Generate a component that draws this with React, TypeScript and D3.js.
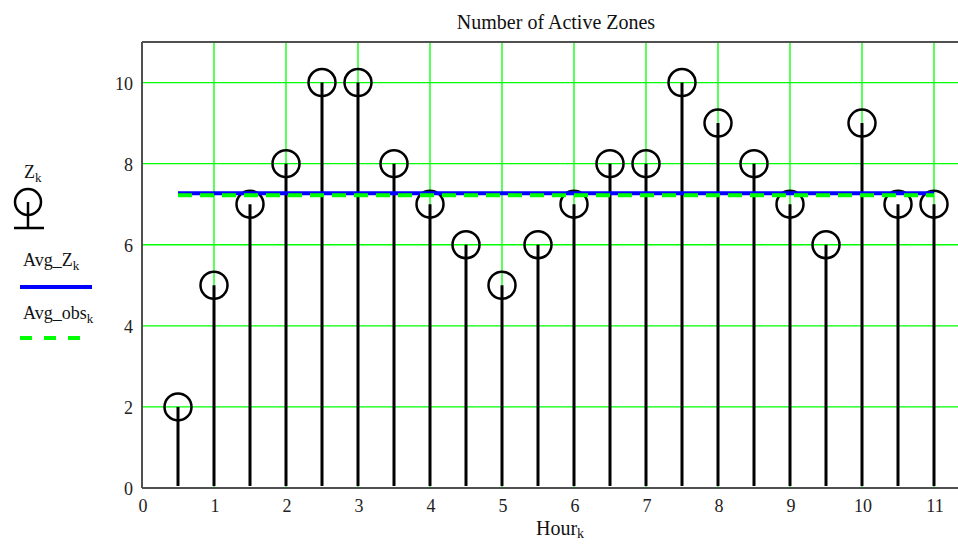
import React from "react";
import * as d3 from "d3";

const hours = [0.5, 1, 1.5, 2, 2.5, 3, 3.5, 4, 4.5, 5, 5.5, 6, 6.5, 7, 7.5, 8, 8.5, 9, 9.5, 10, 10.5, 11];
const zones = [2, 5, 7, 8, 10, 10, 8, 7, 6, 5, 6, 7, 8, 8, 10, 9, 8, 7, 6, 9, 7, 7];
const avgZ = 7.27;
const avgObs = 7.22;
const xTicks = [0, 1, 2, 3, 4, 5, 6, 7, 8, 9, 10, 11];
const yTicks = [0, 2, 4, 6, 8, 10];

const W = 958;
const H = 544;
const left = 142;
const top = 42;
const bottom = 488;

export default function App() {
  const x = d3.scaleLinear().domain([0, 11]).range([left, 934]);
  const y = d3.scaleLinear().domain([0, 11]).range([bottom, top]);
  const font = "'Liberation Serif', 'Times New Roman', serif";
  const avgLine = d3.line<number>().x((d) => x(d)).y(() => 0);
  const xs = [hours[0], hours[hours.length - 1]];
  return (
    <svg width={W} height={H} style={{ position: "absolute", left: 0, top: 0, background: "#fff" }} fontFamily={font}>
      {/* grid */}
      {xTicks.filter((t) => t > 0).map((t) => (
        <line key={"gx" + t} x1={x(t)} x2={x(t)} y1={top} y2={bottom} stroke="#00ff00" strokeWidth={1.3} />
      ))}
      {yTicks.filter((t) => t > 0).map((t) => (
        <line key={"gy" + t} x1={left} x2={W} y1={y(t)} y2={y(t)} stroke="#00ff00" strokeWidth={1.3} />
      ))}
      {/* frame */}
      <line x1={left} x2={W} y1={top} y2={top} stroke="#505050" strokeWidth={2} />
      <line x1={left} x2={left} y1={top} y2={bottom} stroke="#505050" strokeWidth={2} />
      <line x1={left} x2={W} y1={bottom} y2={bottom} stroke="#505050" strokeWidth={2} />
      {/* stems */}
      {hours.map((h, i) => (
        <g key={"s" + i}>
          <line x1={x(h)} x2={x(h)} y1={y(0) - 2} y2={y(zones[i])} stroke="#000" strokeWidth={3} />
          <circle cx={x(h)} cy={y(zones[i])} r={13.5} fill="none" stroke="#000" strokeWidth={2.5} />
        </g>
      ))}
      {/* averages */}
      <path d={avgLine(xs) as string} transform={`translate(0,${y(avgZ)})`} stroke="#0000ff" strokeWidth={4} fill="none" />
      <path d={avgLine(xs) as string} transform={`translate(0,${y(avgObs)})`} stroke="#00ff00" strokeWidth={4} strokeDasharray="14 8" fill="none" />
      {/* ticks */}
      {xTicks.map((t) => (
        <text key={"tx" + t} x={x(t) + 1} y={512} textAnchor="middle" fontSize={18} fill="#222">{t}</text>
      ))}
      {yTicks.map((t) => (
        <text key={"ty" + t} x={133} y={y(t) + 7} textAnchor="end" fontSize={18} fill="#222">{t}</text>
      ))}
      {/* title & axis label */}
      <text x={556} y={29} textAnchor="middle" fontSize={20} fill="#111">Number of Active Zones</text>
      <text x={560} y={535} textAnchor="middle" fontSize={20} fill="#111">
        Hour<tspan fontSize={14} dy={3}>k</tspan>
      </text>
      {/* legend */}
      <text x={24} y={178} fontSize={18} fill="#111">Z<tspan fontSize={13} dy={4}>k</tspan></text>
      <circle cx={28} cy={202} r={13} fill="none" stroke="#000" strokeWidth={2.5} />
      <line x1={28} x2={28} y1={202} y2={228} stroke="#000" strokeWidth={2.5} />
      <line x1={14} x2={44} y1={228} y2={228} stroke="#000" strokeWidth={2.5} />
      <text x={23} y={266} fontSize={18} fill="#111">Avg_Z<tspan fontSize={13} dy={4}>k</tspan></text>
      <line x1={20} x2={92} y1={287} y2={287} stroke="#0000ff" strokeWidth={4} />
      <text x={23} y={319} fontSize={18} fill="#111">Avg_obs<tspan fontSize={13} dy={4}>k</tspan></text>
      <line x1={20} x2={88} y1={338} y2={338} stroke="#00ff00" strokeWidth={4} strokeDasharray="12 12" />
    </svg>
  );
}
